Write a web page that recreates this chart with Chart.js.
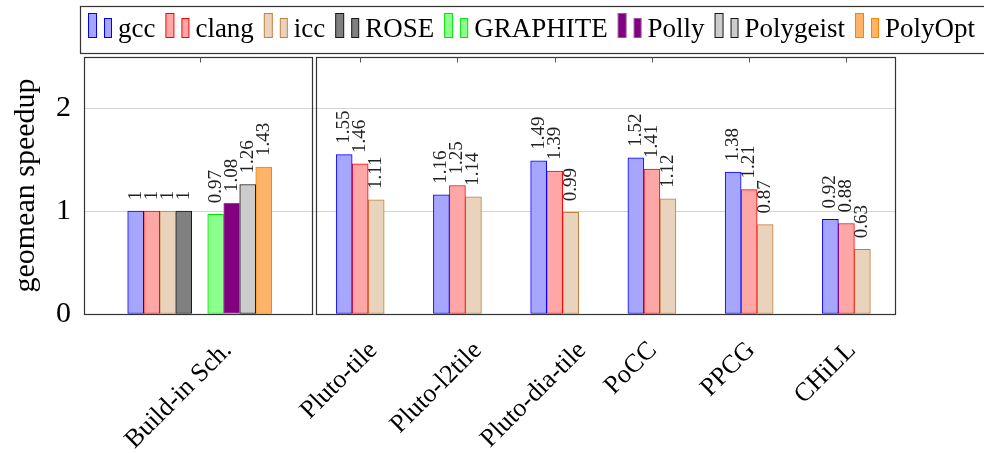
<!DOCTYPE html>
<html>
<head>
<meta charset="utf-8">
<title>geomean speedup</title>
<script src="https://cdn.jsdelivr.net/npm/chart.js@4.4.1/dist/chart.umd.min.js"></script>
<style>
  html, body { margin: 0; padding: 0; background: #fff; }
  #chart { display: block; }
</style>
</head>
<body>
<canvas id="chart" width="984" height="453"></canvas>
<script>
// Groups along the x axis and where each one sits on the linear x scale
const categories = ['Build-in Sch.', 'Pluto-tile', 'Pluto-l2tile', 'Pluto-dia-tile', 'PoCC', 'PPCG', 'CHiLL'];
const groupPos = [0.35, 2, 3, 4, 5, 6, 7];

const seriesNames = ['gcc', 'clang', 'icc', 'ROSE', 'GRAPHITE', 'Polly', 'Polygeist', 'PolyOpt'];

// geomean speedup per group (null = no bar)
const gcc       = [1, 1.55, 1.16, 1.49, 1.52, 1.38, 0.92];
const clang     = [1, 1.46, 1.25, 1.39, 1.41, 1.21, 0.88];
const icc       = [1, 1.11, 1.14, 0.99, 1.12, 0.87, 0.63];
const rose      = [1, null, null, null, null, null, null];
const graphite  = [0.97, null, null, null, null, null, null];
const polly     = [1.08, null, null, null, null, null, null];
const polygeist = [1.26, null, null, null, null, null, null];
const polyopt   = [1.43, null, null, null, null, null, null];

const yTicks = [0, 1, 2];

const seriesValues = [gcc, clang, icc, rose, graphite, polly, polygeist, polyopt];

// bar slot of each series inside a group (Build-in has a gap in the middle)
const buildInSlots = [-4, -3, -2, -1, 1, 2, 3, 4];
const toolSlots = [-1, 0, 1];
const BAR = 0.1646; // one bar width, in x-axis units

const fills = ['rgb(166,166,255)', 'rgb(255,166,166)', 'rgb(233,211,188)', 'rgb(128,128,128)',
               'rgb(140,255,140)', 'rgb(128,0,128)', 'rgb(204,204,204)', 'rgb(255,179,102)'];
const borders = ['rgb(0,0,255)', 'rgb(255,0,0)', 'rgb(191,128,64)', 'rgb(20,20,20)',
                 'rgb(0,230,0)', 'rgb(165,80,165)', 'rgb(20,20,20)', 'rgb(255,128,0)'];

const SERIF = '"Liberation Serif", "DejaVu Serif", serif';

const datasets = seriesNames.map((name, s) => ({
    label: name,
    data: seriesValues[s]
        .map((v, c) => {
            if (v === null) return null;
            const slot = c === 0 ? buildInSlots[s] : toolSlots[s];
            return { x: groupPos[c] + slot * BAR, y: v };
        })
        .filter(p => p !== null),
    backgroundColor: fills[s],
    borderColor: borders[s],
    borderWidth: 1,
    borderSkipped: false,
    grouped: false,
    barPercentage: 1,
    categoryPercentage: 1
}));

// Frame, separator, top ticks, rotated group labels, value labels and the boxed legend
const decorPlugin = {
    id: 'decor',
    afterDatasetsDraw(chart) {
        const { ctx } = chart;
        ctx.save();
        ctx.fillStyle = '#222';
        ctx.font = '19px ' + SERIF;
        ctx.textAlign = 'left';
        ctx.textBaseline = 'middle';
        chart.data.datasets.forEach((ds, i) => {
            chart.getDatasetMeta(i).data.forEach((bar, j) => {
                const v = ds.data[j].y;
                ctx.save();
                ctx.translate(bar.x, bar.y - 11);
                ctx.rotate(-Math.PI / 2);
                ctx.fillText(String(v), 0, 0);
                ctx.restore();
            });
        });
        ctx.restore();
    },
    afterDraw(chart) {
        const { ctx, chartArea: a } = chart;
        const xs = chart.scales.x;
        ctx.save();

        // two axis frames with a double line between them
        const sepL = Math.round(xs.getPixelForValue(1.5)) + 0.5;
        const sepR = Math.round(xs.getPixelForValue(1.55)) + 0.5;
        const top = Math.round(a.top) + 0.5, bottom = Math.round(a.bottom) + 0.5;
        ctx.strokeStyle = '#333';
        ctx.lineWidth = 1.2;
        ctx.strokeRect(Math.round(a.left) + 0.5, top, sepL - Math.round(a.left) - 0.5, bottom - top);
        ctx.strokeRect(sepR, top, Math.round(a.right) + 0.5 - sepR, bottom - top);

        // small tick marks at the top for each group
        ctx.lineWidth = 1;
        ctx.strokeStyle = '#555';
        groupPos.forEach(p => {
            const px = Math.round(xs.getPixelForValue(p)) + 0.5;
            ctx.beginPath();
            ctx.moveTo(px, top);
            ctx.lineTo(px, top + 5);
            ctx.stroke();
        });

        // rotated group labels
        ctx.fillStyle = '#000';
        ctx.font = '26px ' + SERIF;
        ctx.textAlign = 'center';
        ctx.textBaseline = 'middle';
        categories.forEach((name, c) => {
            const w = ctx.measureText(name).width;
            const px = xs.getPixelForValue(groupPos[c]) - 21;
            const py = a.bottom + 26 + (w + 18) * 0.354;
            ctx.save();
            ctx.translate(px, py);
            ctx.rotate(-Math.PI / 4);
            ctx.fillText(name, 0, 0);
            ctx.restore();
        });

        // legend box
        ctx.strokeStyle = '#333';
        ctx.lineWidth = 1.2;
        ctx.strokeRect(80.5, 6.5, 920, 47);

        ctx.font = '27px ' + SERIF;
        ctx.textAlign = 'left';
        ctx.textBaseline = 'alphabetic';
        const iconW = 30;
        const widths = chart.data.datasets.map(ds => ctx.measureText(ds.label).width);
        const start = 88, end = 975;
        const used = widths.reduce((t, w) => t + iconW + w, 0);
        const gap = (end - start - used) / (widths.length - 1);
        let x = start;
        chart.data.datasets.forEach((ds, i) => {
            ctx.fillStyle = ds.backgroundColor;
            ctx.strokeStyle = ds.borderColor;
            ctx.lineWidth = 1;
            ctx.fillRect(x + 0.5, 13.5, 8, 24);
            ctx.strokeRect(x + 0.5, 13.5, 8, 24);
            ctx.fillRect(x + 16.5, 18.5, 7, 19);
            ctx.strokeRect(x + 16.5, 18.5, 7, 19);
            ctx.fillStyle = '#000';
            ctx.fillText(ds.label, x + iconW, 37);
            x += iconW + widths[i] + gap;
        });
        ctx.restore();
    }
};

new Chart(document.getElementById('chart'), {
    type: 'bar',
    data: { datasets: datasets },
    options: {
        responsive: false,
        animation: false,
        layout: { padding: { top: 57, right: 89, left: 0, bottom: 0 } },
        plugins: {
            legend: { display: false },
            tooltip: { enabled: false }
        },
        scales: {
            x: {
                type: 'linear',
                offset: false,
                min: -0.84,
                max: 7.5,
                grid: { display: false },
                border: { display: false },
                ticks: { display: false },
                afterFit: s => { s.height = 139; }
            },
            y: {
                min: 0,
                max: 2.5,
                afterBuildTicks: s => { s.ticks = yTicks.map(v => ({ value: v })); },
                grid: { color: 'rgb(212,212,212)', lineWidth: 1, drawTicks: false },
                border: { display: false },
                ticks: {
                    padding: 13,
                    color: '#000',
                    font: { family: SERIF, size: 30 }
                },
                title: {
                    display: true,
                    text: 'geomean speedup',
                    color: '#000',
                    font: { family: SERIF, size: 30 },
                    padding: { top: 8, bottom: 0 }
                },
                afterFit: s => { s.width = 84; }
            }
        }
    },
    plugins: [decorPlugin]
});
</script>
</body>
</html>
